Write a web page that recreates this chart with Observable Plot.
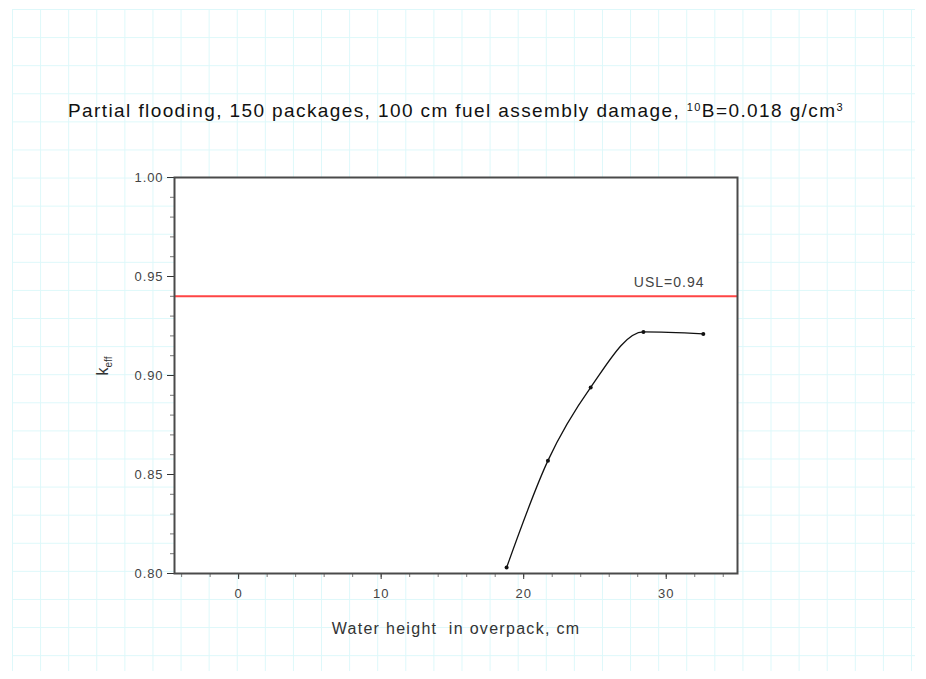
<!DOCTYPE html>
<html>
<head>
<meta charset="utf-8">
<script src="https://cdn.jsdelivr.net/npm/d3@7"></script>
<script src="https://cdn.jsdelivr.net/npm/@observablehq/plot@0.6"></script>
<style>
  html, body { margin: 0; padding: 0; background: #fff; }
  #wrap { position: relative; width: 926px; height: 679px; overflow: hidden; }
  #paper {
    position: absolute; left: 12px; top: 9px; width: 903px; height: 662px;
    background-image:
      linear-gradient(to right, #ddf8fa 1px, transparent 1px),
      linear-gradient(to bottom, #ddf8fa 1px, transparent 1px);
    background-size: 28.1px 28.1px;
  }
  #chart { position: absolute; left: 0; top: 0; }
</style>
</head>
<body>
<div id="wrap"><div id="paper"></div><div id="chart"></div></div>
<script>
// ---- data ----
const waterHeight = [18.8, 21.7, 24.7, 28.4, 32.6];      // cm
const keff        = [0.803, 0.857, 0.894, 0.922, 0.921];
const uslValue    = [0.94];
const uslLabel    = "USL=0.94";
const xMajorTicks = [0, 10, 20, 30];
const xMinorTicks = [-4, -2, 0, 2, 4, 6, 8, 10, 12, 14, 16, 18, 20, 22, 24, 26, 28, 30, 32, 34];
const yMajorTicks = [0.80, 0.85, 0.90, 0.95, 1.00];
const yMinorTicks = [0.80,0.81,0.82,0.83,0.84,0.85,0.86,0.87,0.88,0.89,0.90,0.91,0.92,0.93,0.94,0.95,0.96,0.97,0.98,0.99,1.00];
const titleMain   = "Partial flooding, 150 packages, 100 cm fuel assembly damage, ";
const titleSup1   = "10";
const titleMid    = "B=0.018 g/cm";
const titleSup2   = "3";
const xLabel      = "Water height  in overpack, cm";
const yLabelMain  = "k";
const yLabelSub   = "eff";

const points = waterHeight.map((x, i) => ({x, y: keff[i]}));

const font = "Arial, 'Liberation Sans', sans-serif";
const chart = Plot.plot({
  width: 926,
  height: 679,
  marginLeft: 174,
  marginRight: 189,
  marginTop: 177,
  marginBottom: 106,
  style: {background: "transparent", fontFamily: font, color: "#444"},
  x: {domain: [-4.5, 35]},
  y: {domain: [0.80, 1.00]},
  marks: [
    Plot.frame({fill: "white", stroke: null}),
    // minor ticks
    Plot.axisX({ticks: xMinorTicks, tickSize: 4, text: null, label: null, stroke: "#777"}),
    Plot.axisY({ticks: yMinorTicks, tickSize: 4, text: null, label: null, stroke: "#777"}),
    // major ticks
    Plot.axisX({ticks: xMajorTicks, tickSize: 6, tickPadding: 9, fontSize: 13, label: null, stroke: "#333", fill: "#444", className: "tk"}),
    Plot.axisY({ticks: yMajorTicks, tickSize: 7, tickPadding: 4, fontSize: 13, tickFormat: d3.format(".2f"), label: null, stroke: "#333", fill: "#444", className: "tk"}),
    // USL line
    Plot.ruleY(uslValue, {stroke: "#ff4545", strokeWidth: 2}),
    Plot.text([uslLabel], {text: d => d, frameAnchor: "top-right", dx: -33, dy: 107 - 7, textAnchor: "end", fontSize: 14, fill: "#444", className: "usl"}),
    // data
    Plot.line(points, {x: "x", y: "y", curve: "monotone-x", stroke: "#111", strokeWidth: 1.3}),
    Plot.dot(points, {x: "x", y: "y", r: 2, fill: "#111", stroke: null}),
    Plot.frame({stroke: "#4a4a4a", strokeWidth: 2}),
    // title and labels
    Plot.text([titleMain], {text: d => d, frameAnchor: "top", dy: -74, fontSize: 19, fill: "#111", className: "ttl"}),
    Plot.text([xLabel], {text: d => d, frameAnchor: "bottom", dy: 60, fontSize: 16, fill: "#333", className: "xlab"}),
    Plot.text([yLabelMain], {text: d => d, frameAnchor: "left", dx: -72, rotate: -90, fontSize: 16, fill: "#333", className: "ylab"})
  ]
});
document.getElementById("chart").appendChild(chart);

// letter spacing to match the wide lettering of the reference
const svg = d3.select(chart);
svg.selectAll("g.tk text").attr("letter-spacing", "0.9px");
svg.select("g.usl text").attr("letter-spacing", "1px");
svg.select("g.xlab text").attr("letter-spacing", "1.3px");

// superscript / subscript decorations
const t = svg.select("g.ttl text").attr("letter-spacing", "1.4px");
t.text(titleMain);
t.append("tspan").attr("dy", -6).attr("font-size", "11px").text(titleSup1);
t.append("tspan").attr("dy", 6).text(titleMid);
t.append("tspan").attr("dy", -6).attr("font-size", "11px").text(titleSup2);
const yl = svg.select("g.ylab text");
yl.text(yLabelMain);
yl.append("tspan").attr("dy", 4).attr("font-size", "10px").text(yLabelSub);
</script>
</body>
</html>
